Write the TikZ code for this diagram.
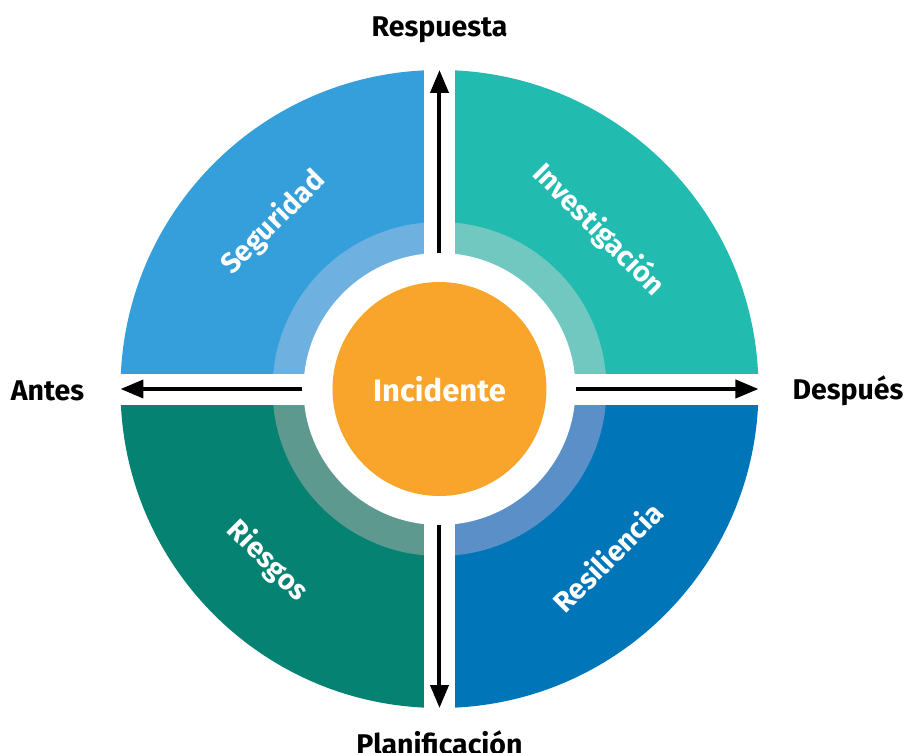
\documentclass[tikz,border=0pt]{standalone}
\usepackage{fontspec}
\setmainfont{Fira Sans}
\usetikzlibrary{arrows.meta}
\definecolor{cSeg}{HTML}{349FDA}
\definecolor{cSegL}{HTML}{6EB1E1}
\definecolor{cInv}{HTML}{22BBB0}
\definecolor{cInvL}{HTML}{70C8C0}
\definecolor{cRie}{HTML}{058272}
\definecolor{cRieL}{HTML}{5E9990}
\definecolor{cRes}{HTML}{0076B8}
\definecolor{cResL}{HTML}{5B8FC8}
\definecolor{cInc}{HTML}{F9A42A}
\tikzset{
  axislabel/.style={font=\bfseries\fontsize{28.5}{32}\selectfont, text=black, inner sep=0pt},
  quadlabel/.style={font=\bfseries\fontsize{28.5}{32}\selectfont, text=white, inner sep=0pt},
  axisarrow/.style={line width=4pt, -{Triangle[length=23pt,width=18pt]}},
}
\begin{document}
\begin{tikzpicture}[x=1pt,y=1pt]
\useasboundingbox (-439.5,-364) rectangle (466.5,389);
% outer sectors
\fill[cInv] (0,0) -- (0:319) arc[start angle=0,end angle=90,radius=319] -- cycle;
\fill[cSeg] (0,0) -- (90:319) arc[start angle=90,end angle=180,radius=319] -- cycle;
\fill[cRie] (0,0) -- (180:319) arc[start angle=180,end angle=270,radius=319] -- cycle;
\fill[cRes] (0,0) -- (270:319) arc[start angle=270,end angle=360,radius=319] -- cycle;
% inner light ring
\fill[cInvL] (0,0) -- (0:167) arc[start angle=0,end angle=90,radius=167] -- cycle;
\fill[cSegL] (0,0) -- (90:167) arc[start angle=90,end angle=180,radius=167] -- cycle;
\fill[cRieL] (0,0) -- (180:167) arc[start angle=180,end angle=270,radius=167] -- cycle;
\fill[cResL] (0,0) -- (270:167) arc[start angle=270,end angle=360,radius=167] -- cycle;
% white circle and gaps
\fill[white] (0,0) circle[radius=136];
\fill[white] (-15.5,-330) rectangle (15.5,330);
\fill[white] (-330,-15.5) rectangle (330,15.5);
% centre
\node[circle, fill=cInc, minimum size=214pt, inner sep=0pt,
      font=\bfseries\fontsize{31}{36}\selectfont, text=white] (inc) at (0,0) {Incidente};
% arrows
\coordinate (nS) at (0,136);
\coordinate (nE) at (0,319);
\coordinate (sS) at (0,-136);
\coordinate (sE) at (0,-319);
\coordinate (wS) at (-137,0);
\coordinate (wE) at (-319,0);
\coordinate (eS) at (137,0);
\coordinate (eE) at (319,0);
\draw[axisarrow] (nS) -- (nE);
\draw[axisarrow] (sS) -- (sE);
\draw[axisarrow] (wS) -- (wE);
\draw[axisarrow] (eS) -- (eE);
% axis labels
\node[axislabel] (resp) at (0,359) {Respuesta};
\node[axislabel] (plan) at (0,-354) {Planificación};
\node[axislabel] (antes) at (-392,-2) {Antes};
\node[axislabel] (desp) at (408.5,-2) {Después};
% quadrant labels
\node[quadlabel, rotate=45] (seg) at (-166,166) {Seguridad};
\node[quadlabel, rotate=-45] (inv) at (159,159) {Investigación};
\node[quadlabel, rotate=-45] (rie) at (-172,-172) {Riesgos};
\node[quadlabel, rotate=45] (res) at (168,-168) {Resiliencia};
\end{tikzpicture}
\end{document}
